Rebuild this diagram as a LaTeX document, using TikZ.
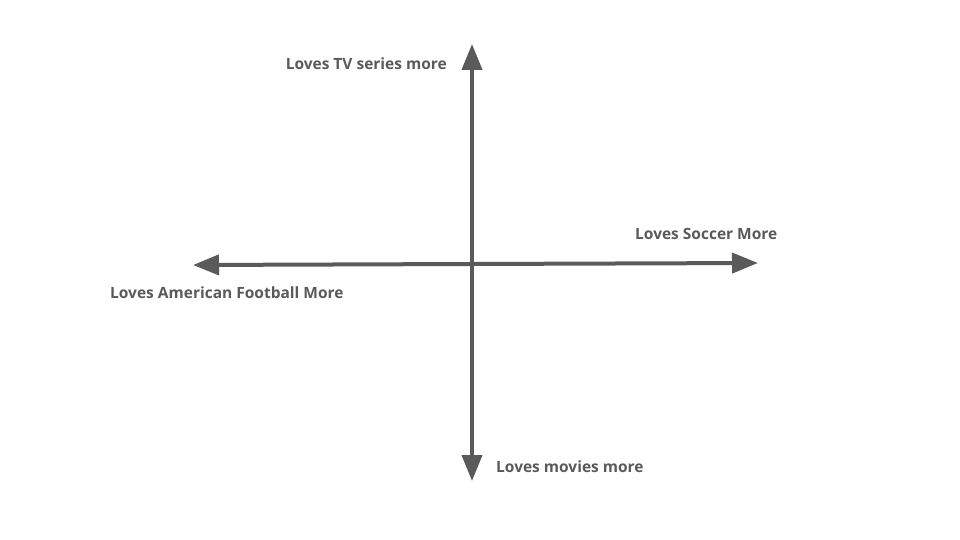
\documentclass[tikz,border=0pt]{standalone}
\usepackage{fontspec}
\setmainfont{Open Sans}
\usetikzlibrary{arrows.meta}
\definecolor{axisgray}{HTML}{5A5A5A}
\tikzset{
  axis/.style={draw=axisgray, line width=4pt, -{Triangle[length=26pt,width=20pt]}},
  lbl/.style={text=axisgray, font=\bfseries\fontsize{15.5}{17}\selectfont, inner sep=0pt}
}
\begin{document}
\begin{tikzpicture}[x=1pt,y=-1pt]
\useasboundingbox (0,0) rectangle (960,540);
\coordinate (c) at (472,264);
\coordinate (top) at (472,44);
\coordinate (bot) at (472,481);
\coordinate (lft) at (193,265);
\coordinate (rgt) at (758,263);
\draw[axis] (c) -- (top);
\draw[axis] (c) -- (bot);
\draw[axis] (c) -- (lft);
\draw[axis] (c) -- (rgt);
\node[lbl, anchor=east] (tv) at (447,64) {Loves TV series more};
\node[lbl, anchor=west] (soccer) at (635,234) {Loves Soccer More};
\node[lbl, anchor=west] (amf) at (110,293) {Loves American Football More};
\node[lbl, anchor=west] (movies) at (496,467) {Loves movies more};
\end{tikzpicture}
\end{document}
